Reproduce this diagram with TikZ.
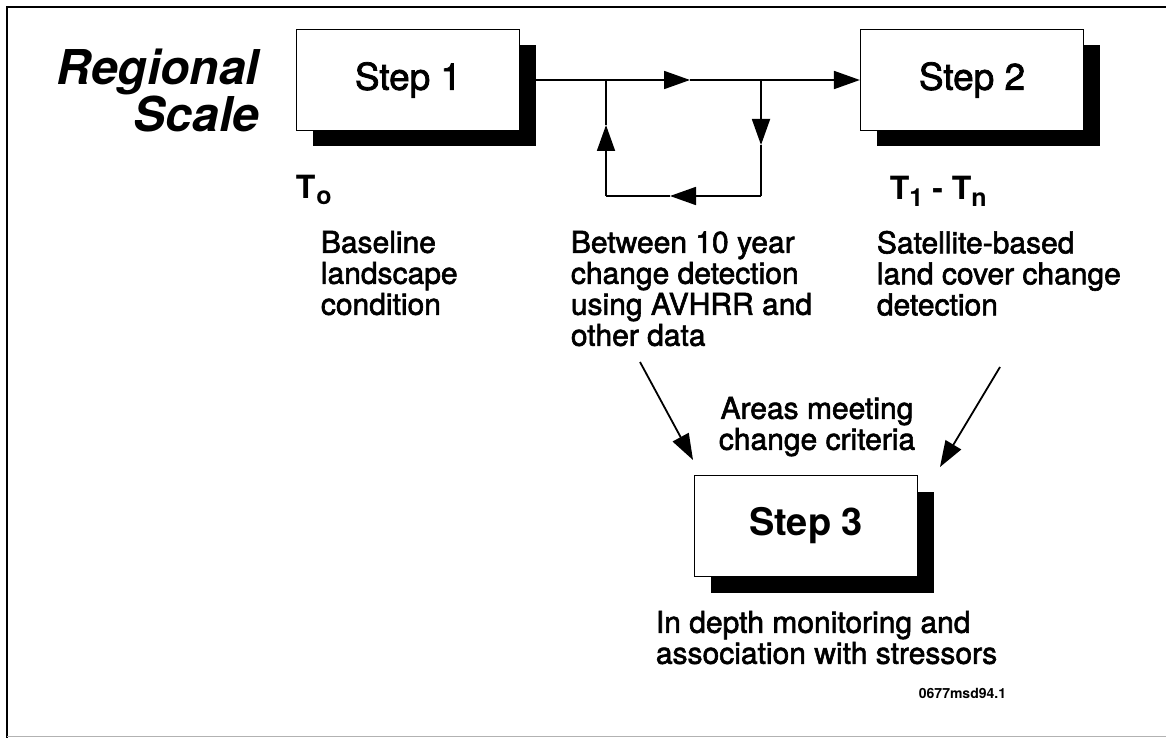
\documentclass[tikz,border=0pt]{standalone}
\usepackage{fontspec}
\setmainfont{TeX Gyre Heros}
\newfontfamily\medfont{TeX Gyre Heros}[FakeBold=2]
\usetikzlibrary{arrows.meta,shadows}

\newcommand{\lowsub}[1]{\raisebox{-6pt}{\fontsize{25}{25}\selectfont #1}}

\begin{document}
\begin{tikzpicture}[x=1pt,y=-1pt,>={Triangle[length=26pt,width=18pt]},line width=1.8pt,
    stepbox/.style={draw,line width=1.2pt,fill=white,minimum width=223pt,minimum height=101pt,
      font=\fontsize{37}{37}\selectfont\medfont,
      drop shadow={shadow xshift=16pt,shadow yshift=-16pt,fill=black,opacity=1}},
    note/.style={inner sep=0pt,align=left,font=\fontsize{30}{31}\selectfont\medfont},
    tlabel/.style={inner sep=0pt,anchor=base west,font=\fontsize{32}{32}\selectfont\bfseries}]
  \useasboundingbox (0,0) rectangle (1166,738);
  % frame
  \draw[line width=2pt] (7,738) -- (7,7) -- (1166,7);
  \draw[black!30,line width=1pt] (7,736) -- (1166,736);

  \node[inner sep=0pt,anchor=north east,align=right,
    font=\fontsize{48}{46}\selectfont\bfseries\itshape] (title) at (260,48) {Regional\\Scale};

  \node[stepbox] (step1) at (408,80) {Step 1};
  \node[stepbox] (step2) at (972,80) {Step 2};
  \node[stepbox,font=\fontsize{38}{38}\selectfont\bfseries] (step3) at (806,526) {Step 3};

  \node[tlabel] (t0) at (295,198) {T\kern1pt\lowsub{o}};
  \node[tlabel] (tn) at (889,200) {T\lowsub{1} - T\lowsub{n}};

  \node[note,anchor=north west] (base) at (320,230) {Baseline\\landscape\\condition};
  \node[note,anchor=north west] (avhrr) at (570,230) {Between 10 year\\change detection\\using AVHRR and\\other data};
  \node[note,anchor=north west] (sat) at (876,230) {Satellite-based\\land cover change\\detection};
  \node[note,anchor=north,align=center] (crit) at (817,396) {Areas meeting\\change criteria};
  \node[note,anchor=north west] (depth) at (655,610) {In depth monitoring and\\association with stressors};
  \node[inner sep=0pt,anchor=base west,font=\fontsize{14}{14}\selectfont\bfseries] (code) at (918,698) {0677msd94.1};

  % main path with the 10 year loop
  \coordinate (split) at (606,80);
  \coordinate (mainmid) at (690,80);
  \coordinate (join) at (761,80);
  \coordinate (downtip) at (761,145);
  \coordinate (loopbr) at (761,196);
  \coordinate (backtip) at (670,196);
  \coordinate (loopbl) at (606,196);
  \coordinate (uptip) at (606,125);
  \draw[->] (step1.east) -- (mainmid);
  \draw[->] (mainmid) -- (step2.west);
  \draw[->] (join) -- (downtip);
  \draw (downtip) -- (loopbr);
  \draw[->] (loopbr) -- (backtip);
  \draw (backtip) -- (loopbl);
  \draw[->] (loopbl) -- (uptip);
  \draw (uptip) -- (split);

  % into step 3
  \coordinate (avhrrfoot) at (640,362);
  \coordinate (satfoot) at (1000,367);
  \draw[->] (avhrrfoot) -- (693,460);
  \draw[->] (satfoot) -- (940,467);
\end{tikzpicture}
\end{document}
